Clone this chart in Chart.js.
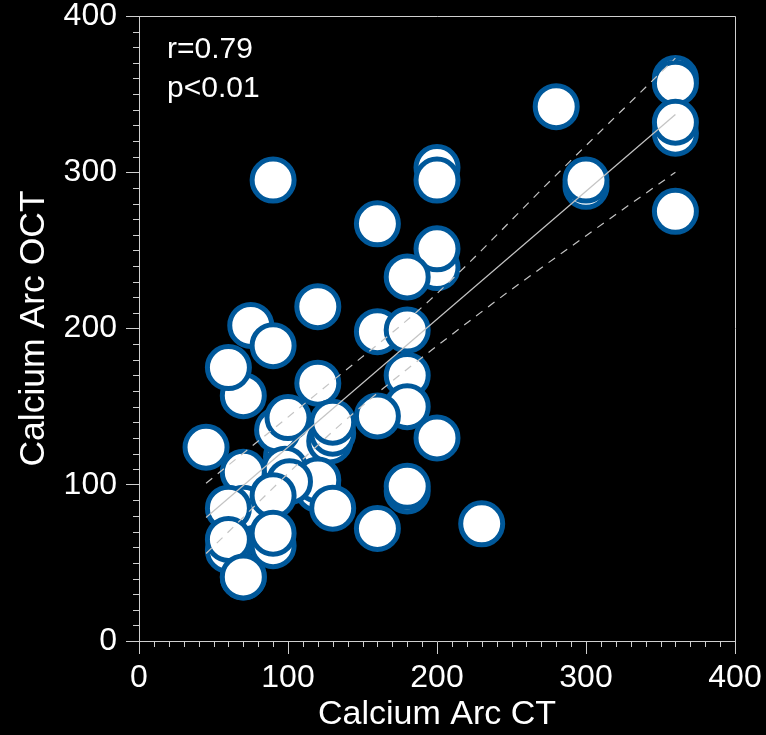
<!DOCTYPE html>
<html>
<head>
<meta charset="utf-8">
<script src="https://cdn.jsdelivr.net/npm/chart.js@4.4.1/dist/chart.umd.min.js"></script>
<style>
  html, body { margin: 0; padding: 0; background: #000; }
  #wrap { width: 766px; height: 735px; position: relative; }
</style>
</head>
<body>
<div id="wrap"><canvas id="chart"></canvas></div>
<script>
// ---------------------------------------------------------------------------
// values
// ---------------------------------------------------------------------------
const calciumArcCT = [
    90, 280, 360, 360, 360, 360, 360, 300, 300, 200,
    200, 200, 200, 180, 160, 120, 75, 90, 70, 60,
    120, 160, 180, 180, 180, 160, 200, 230, 180, 180,
    160, 45, 99, 115, 128, 93, 100, 130, 130, 98,
    120, 120, 130, 101, 70, 70, 60, 70, 90, 60,
    60, 90, 90, 70
];
const calciumArcOCT = [
    295, 342, 360, 357, 325, 332, 275, 291, 295, 303,
    295, 239, 251, 233, 267, 214, 202, 189, 157, 175,
    165, 198, 199, 170, 150, 144, 130, 75, 96, 99,
    72, 124, 118, 124, 128, 135, 143, 133, 140, 110,
    97, 103, 85, 102, 108, 85, 85, 41, 93, 58,
    65, 61, 69, 41
];

// regression line and the two dashed bands
const fitX        = [45, 360];
const fitY        = [79, 337];
const upperBandX  = [45, 128, 195, 285, 360];
const upperBandY  = [101, 165, 218, 303, 373];
const lowerBandX  = [45, 137, 229, 298, 360];
const lowerBandY  = [56, 140, 210, 258, 300];

const axisTicks   = [0, 100, 200, 300, 400];
const statsText   = ['r=0.79', 'p<0.01'];

const toPoints = (xs, ys) => xs.map((x, i) => ({ x: x, y: ys[i] }));

const lineGrey  = '#c4c4c4';
const axisGrey  = '#cfcfcf';
const dotBlue   = '#00589a';

//-----------------------------------------------------------------------------
// minor ticks, top/right frame and the r / p text
//-----------------------------------------------------------------------------
const extrasPlugin = {
    id: 'extras',
    afterDraw(chart) {
        const ctx = chart.ctx;
        const area = chart.chartArea;
        const xs = chart.scales.x;
        const ys = chart.scales.y;

        ctx.save();
        ctx.strokeStyle = axisGrey;
        ctx.lineWidth = 1;
        ctx.beginPath();
        for (let v = 10; v < 400; v += 10) {
            if (v % 100 === 0) continue;
            const py = Math.round(ys.getPixelForValue(v)) + 0.5;
            ctx.moveTo(area.left - 6, py);
            ctx.lineTo(area.left, py);
            const px = Math.round(xs.getPixelForValue(v)) + 0.5;
            ctx.moveTo(px, area.bottom);
            ctx.lineTo(px, area.bottom + 6);
        }
        // frame on top and right
        ctx.moveTo(area.left, Math.round(area.top) + 0.5);
        ctx.lineTo(Math.round(area.right) + 0.5, Math.round(area.top) + 0.5);
        ctx.lineTo(Math.round(area.right) + 0.5, area.bottom);
        ctx.stroke();

        ctx.fillStyle = '#ffffff';
        ctx.font = '30px "Liberation Sans", Arial, sans-serif';
        ctx.textAlign = 'left';
        ctx.textBaseline = 'alphabetic';
        ctx.fillText(statsText[0], area.left + 28, area.top + 42);
        ctx.fillText(statsText[1], area.left + 28, area.top + 81);
        ctx.restore();
    }
};

const tickFont  = { family: '"Liberation Sans", Arial, sans-serif', size: 32 };
const titleFont = { family: '"Liberation Sans", Arial, sans-serif', size: 34 };

const bandStyle = {
    type: 'line',
    showLine: true,
    borderColor: lineGrey,
    borderWidth: 1.2,
    borderDash: [8, 7],
    pointRadius: 0,
    cubicInterpolationMode: 'monotone',
    fill: false,
    order: 0
};

const ctx = document.getElementById('chart').getContext('2d');
new Chart(ctx, {
    type: 'scatter',
    data: {
        datasets: [
            {
                type: 'line',
                data: toPoints(fitX, fitY),
                showLine: true,
                borderColor: lineGrey,
                borderWidth: 1.2,
                pointRadius: 0,
                fill: false,
                order: 0
            },
            { ...bandStyle, data: toPoints(upperBandX, upperBandY) },
            { ...bandStyle, data: toPoints(lowerBandX, lowerBandY) },
            {
                data: toPoints(calciumArcCT, calciumArcOCT),
                backgroundColor: '#ffffff',
                borderColor: dotBlue,
                borderWidth: 5,
                pointRadius: 21,
                pointHoverRadius: 21,
                clip: false,
                order: 1
            }
        ]
    },
    options: {
        responsive: true,
        maintainAspectRatio: false,
        animation: false,
        layout: {
            autoPadding: false,
            padding: { top: 16, right: 31, bottom: 0, left: 0 }
        },
        plugins: {
            legend: { display: false },
            tooltip: { enabled: false }
        },
        scales: {
            x: {
                type: 'linear',
                min: 0,
                max: 400,
                afterBuildTicks: scale => {
                    scale.ticks = axisTicks.map(v => ({ value: v }));
                },
                afterFit: scale => {
                    scale.height = 94;
                    scale.paddingLeft = 0;
                    scale.paddingRight = 0;
                },
                border: { color: axisGrey, width: 1 },
                grid: {
                    drawOnChartArea: false,
                    tickLength: 13,
                    tickColor: axisGrey
                },
                ticks: {
                    color: '#ffffff',
                    font: tickFont,
                    padding: 5,
                    maxRotation: 0
                },
                title: {
                    display: true,
                    text: 'Calcium Arc CT',
                    color: '#ffffff',
                    font: titleFont,
                    padding: { top: 0, bottom: 0 }
                }
            },
            y: {
                type: 'linear',
                min: 0,
                max: 400,
                afterBuildTicks: scale => {
                    scale.ticks = axisTicks.map(v => ({ value: v }));
                },
                afterFit: scale => {
                    scale.width = 139;
                    scale.paddingTop = 0;
                    scale.paddingBottom = 0;
                },
                border: { color: axisGrey, width: 1 },
                grid: {
                    drawOnChartArea: false,
                    tickLength: 13,
                    tickColor: axisGrey
                },
                ticks: {
                    color: '#ffffff',
                    font: tickFont,
                    padding: 9
                },
                title: {
                    display: true,
                    text: 'Calcium Arc OCT',
                    color: '#ffffff',
                    font: { ...titleFont, size: 35.5 },
                    padding: { top: 13, bottom: 0 }
                }
            }
        }
    },
    plugins: [extrasPlugin]
});
</script>
</body>
</html>
